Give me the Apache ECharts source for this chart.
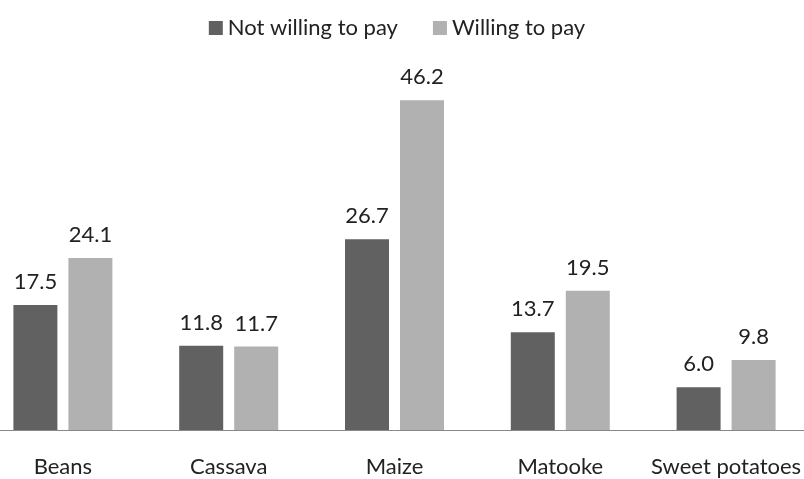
<!DOCTYPE html>
<html><head><meta charset="utf-8">
<script src="https://cdn.jsdelivr.net/npm/echarts@6/dist/echarts.min.js"></script>
<style>html,body{margin:0;padding:0;background:#fff;overflow:hidden}#c{width:834px;height:479px;margin-left:-20px}</style>
</head><body><div id="c"></div>
<script>
const categories = ["Beans", "Cassava", "Maize", "Matooke", "Sweet potatoes"];
const notWilling = [17.5, 11.8, 26.7, 13.7, 6.0];
const willing = [24.1, 11.7, 46.2, 19.5, 9.8];
const seriesNames = ["Not willing to pay", "Willing to pay"];

const FONT = "Lato";
const chart = echarts.init(document.getElementById('c'), null, {renderer: 'canvas'});
const lbl = {show: true, position: 'top', distance: 12, fontFamily: FONT, fontSize: 22, color: '#222',
  formatter: p => p.value.toFixed(1)};
chart.setOption({
  animation: false,
  legend: {
    top: 12, left: 'center', itemWidth: 14, itemHeight: 14, itemGap: 35,
    icon: 'rect',
    textStyle: {fontFamily: FONT, fontSize: 22, color: '#222'},
    data: seriesNames
  },
  grid: {left: 0, right: 5, top: 73, bottom: 49, containLabel: false},
  xAxis: {
    type: 'category', data: categories,
    axisLine: {lineStyle: {color: '#888', width: 1}},
    axisTick: {show: false},
    axisLabel: {margin: 26, fontFamily: FONT, fontSize: 22, color: '#222', interval: 0}
  },
  yAxis: {type: 'value', min: 0, max: 50, show: false, splitLine: {show: false}},
  series: [
    {name: seriesNames[0], type: 'bar', data: notWilling, barWidth: 44, barGap: '25%',
     itemStyle: {color: '#616161'}, label: lbl},
    {name: seriesNames[1], type: 'bar', data: willing, barWidth: 44,
     itemStyle: {color: '#b1b1b1'}, label: lbl}
  ]
});
</script></body></html>
